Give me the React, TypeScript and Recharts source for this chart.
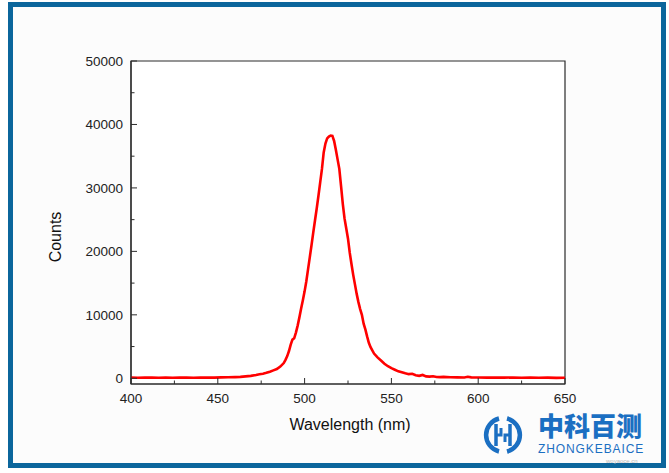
import React from 'react';
import { LineChart, Line, XAxis, YAxis, ReferenceArea } from 'recharts';

// Emission spectrum: wavelength (nm) vs detector counts
const wavelengths = [
  400, 404, 408, 412, 416, 420, 424, 428, 432, 436, 440, 444, 448, 452, 456, 460,
  463, 466, 469, 472, 474, 476, 478, 480, 482, 484, 486, 488, 489, 490, 491, 492,
  493, 494, 495, 496, 497, 498, 499, 500, 501, 502, 503, 504, 505, 506, 507, 508,
  509, 510, 511, 512, 513, 514, 515, 516, 517, 518, 519, 520, 521, 522, 523, 524,
  525, 526, 527, 528, 529, 530, 531, 532, 533, 534, 535, 536, 537, 538, 539, 540,
  542, 544, 546, 548, 550, 552, 554, 556, 558, 560, 562, 564, 566, 568, 570, 572,
  574, 576, 578, 580, 584, 588, 592, 594, 596, 600, 605, 610, 615, 620, 625, 630,
  635, 640, 645, 650,
];

const counts = [
  120, 90, 130, 100, 80, 110, 90, 120, 100, 80, 110, 130, 100, 140, 160, 190,
  230, 300, 380, 520, 640, 720, 860, 1040, 1250, 1450, 1850, 2400, 2900, 3500, 4300, 5300,
  6100, 6300, 7200, 8300, 9600, 11000, 12300, 13700, 15300, 17200, 19100, 21000, 23000, 24900, 26800, 28800,
  30900, 33000, 35600, 37000, 37800, 38100, 38250, 38200, 37400, 36000, 34500, 33000, 30300, 27500, 25200, 23600,
  22000, 19800, 18000, 16300, 14800, 13300, 12000, 10900, 10000, 8600, 7700, 6600, 5600, 4900, 4400, 3900,
  3300, 2800, 2300, 1900, 1600, 1350, 1100, 950, 780, 650, 720, 480, 380, 520, 300, 260,
  330, 200, 180, 220, 170, 150, 130, 230, 140, 120, 110, 130, 100, 120, 90, 110,
  80, 100, 70, 90,
];

const xTicks = [400, 425, 450, 475, 500, 525, 550, 575, 600, 625, 650];
const yTicks = [0, 5000, 10000, 15000, 20000, 25000, 30000, 35000, 40000, 45000, 50000];
const xMajorStep = 50;
const yMajorStep = 10000;

const data = wavelengths.map((w, i) => ({ wavelength: w, counts: counts[i] }));

const FONT = '"Liberation Sans", Arial, Helvetica, sans-serif';
const AXIS = '#2b2b2b';
const BLUE = '#1b6fc2';

// Y ticks point inward (to the right of the axis line); only majors are labelled
const YTick = (props: any) => {
  const { x, y, payload } = props;
  const major = payload.value % yMajorStep === 0;
  const ax = x + 8;
  return (
    <g>
      <line x1={ax} x2={ax + (major ? 6 : 3.5)} y1={y} y2={y} stroke={AXIS} strokeWidth={1} />
      {major && (
        <text x={x} y={y} dy="0.36em" textAnchor="end" fontFamily={FONT} fontSize={13.5} fill="#222">
          {payload.value}
        </text>
      )}
    </g>
  );
};

// X ticks point inward (upward from the axis line)
const XTick = (props: any) => {
  const { x, y, payload } = props;
  const major = payload.value % xMajorStep === 0;
  const ay = y - 9;
  return (
    <g>
      <line x1={x} x2={x} y1={ay} y2={ay - (major ? 6 : 3.5)} stroke={AXIS} strokeWidth={1} />
      {major && (
        <text x={x} y={y} dy="0.71em" textAnchor="middle" fontFamily={FONT} fontSize={13.5} fill="#222">
          {payload.value}
        </text>
      )}
    </g>
  );
};

export default function App() {
  return (
    <div style={{ position: 'absolute', left: 0, top: 0, width: 669, height: 473, background: '#fff' }}>
      <div
        style={{
          position: 'absolute',
          left: 8,
          top: 2,
          width: 658,
          height: 466,
          border: '5px solid #0b669c',
          boxSizing: 'border-box',
          background: '#fcfcfc',
        }}
      />
      <div style={{ position: 'absolute', left: 0, top: 0 }}>
        <LineChart width={669} height={473} data={data} margin={{ top: 61, right: 104, bottom: 39, left: 61 }}>
          <XAxis
            dataKey="wavelength"
            type="number"
            domain={[400, 650]}
            ticks={xTicks}
            interval={0}
            allowDataOverflow
            height={50}
            tickSize={0}
            tickMargin={9}
            tickLine={false}
            axisLine={{ stroke: AXIS, strokeWidth: 1.2 }}
            tick={<XTick />}
          />
          <YAxis
            type="number"
            domain={[-900, 50000]}
            ticks={yTicks}
            interval={0}
            allowDataOverflow
            width={70}
            tickSize={0}
            tickMargin={8}
            tickLine={false}
            axisLine={{ stroke: AXIS, strokeWidth: 1.2 }}
            tick={<YTick />}
          />
          <ReferenceArea
            x1={400}
            x2={650}
            y1={-900}
            y2={50000}
            fill="#ffffff"
            fillOpacity={1}
            stroke={AXIS}
            strokeWidth={1.2}
            ifOverflow="extendDomain"
          />
          <Line
            type="linear"
            dataKey="counts"
            stroke="#ff0000"
            strokeWidth={2.6}
            dot={false}
            isAnimationActive={false}
          />
        </LineChart>
      </div>
      <svg
        width={669}
        height={473}
        style={{ position: 'absolute', left: 0, top: 0, pointerEvents: 'none' }}
      >
        <text
          x={0}
          y={0}
          transform="translate(61 237) rotate(-90)"
          textAnchor="middle"
          fontFamily={FONT}
          fontSize={16}
          fill="#111"
        >
          Counts
        </text>
        <text x={350} y={430} textAnchor="middle" fontFamily={FONT} fontSize={16} fill="#111">
          Wavelength (nm)
        </text>
        {/* brand mark */}
        <g stroke={BLUE} fill="none" strokeWidth={4.5}>
          <path d="M 499 418.5 A 17 17 0 0 0 499 451.5" />
          <path d="M 507 418.5 A 17 17 0 0 1 507 451.5" />
          <path d="M 496 424 L 496 446" strokeWidth={3.5} />
          <path d="M 510 424 L 510 446" strokeWidth={3.5} />
          <path d="M 496 435 L 501 435 L 501 428 M 510 435 L 505 435 L 505 442" strokeWidth={3} />
        </g>
        <text x={538} y={435.5} fontFamily={'"Noto Sans CJK SC", sans-serif'} fontWeight={900} fontSize={26} fill={BLUE}>
          中科百测
        </text>
        <text x={538} y={453} fontFamily={FONT} fontSize={12} letterSpacing={0.9} fill={BLUE}>
          ZHONGKEBAICE
        </text>
        <text x={606} y={463} fontFamily={FONT} fontSize={6} fill="#b8b8b8">
          woyaoce.cn
        </text>
      </svg>
    </div>
  );
}
